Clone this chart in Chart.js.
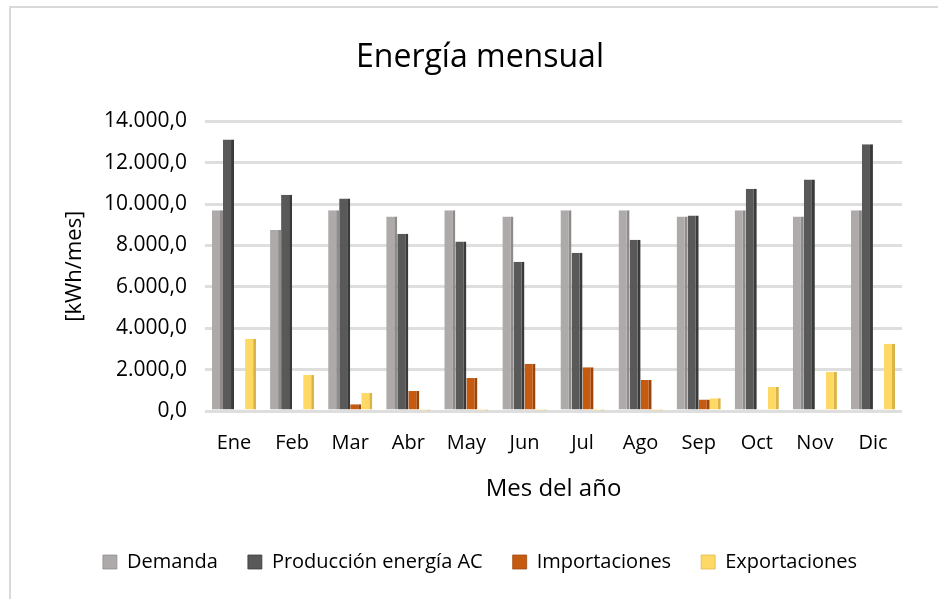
<!DOCTYPE html>
<html lang="es">
<head>
    <meta charset="UTF-8">
    <title>Energía mensual</title>
    <script src="https://cdn.jsdelivr.net/npm/chart.js"></script>
    <style>
        html, body { margin: 0; padding: 0; background: #fff; }
        #wrap { width: 938px; height: 599px; }
    </style>
</head>
<body>
    <div id="wrap"><canvas id="barChart" width="938" height="599"></canvas></div>

    <script>
        const meses = ['Ene', 'Feb', 'Mar', 'Abr', 'May', 'Jun', 'Jul', 'Ago', 'Sep', 'Oct', 'Nov', 'Dic'];
        const demanda = [9700, 8750, 9700, 9400, 9700, 9400, 9700, 9700, 9400, 9700, 9400, 9700];
        const produccion = [13130, 10460, 10270, 8570, 8190, 7220, 7650, 8280, 9450, 10750, 11190, 12890];
        const importaciones = [80, 60, 330, 970, 1600, 2290, 2120, 1500, 560, 80, 60, 80];
        const exportaciones = [3490, 1740, 870, 20, 20, 20, 20, 20, 620, 1160, 1890, 3250];
        const yTicks = [0, 2000, 4000, 6000, 8000, 10000, 12000, 14000];

        const font = "'Open Sans', sans-serif";

        function fmt(v) {
            const s = Math.round(v).toString().replace(/\B(?=(\d{3})+(?!\d))/g, '.');
            return s + ',0';
        }

        // thin gray frame on the left and top, like the Excel chart area border
        const frame = {
            id: 'frame',
            beforeDraw(chart) {
                const c = chart.ctx;
                c.save();
                c.strokeStyle = '#d9d9d9';
                c.lineWidth = 2;
                c.beginPath();
                c.moveTo(10, 599);
                c.lineTo(10, 7);
                c.lineTo(938, 7);
                c.stroke();
                c.restore();
            }
        };

        function serie(label, data, color, side) {
            return {
                label: label,
                data: data,
                backgroundColor: color,
                borderColor: side,
                borderWidth: { top: 0, left: 0, right: 3, bottom: 0 },
                borderSkipped: false
            };
        }

        const ctx = document.getElementById('barChart').getContext('2d');
        new Chart(ctx, {
            type: 'bar',
            data: {
                labels: meses,
                datasets: [
                    serie('Demanda', demanda, '#aeaaaa', '#8f8b8b'),
                    serie('Producción energía AC', produccion, '#595959', '#3a3a3a'),
                    serie('Importaciones', importaciones, '#c55a11', '#9c450b'),
                    serie('Exportaciones', exportaciones, '#ffd966', '#d9b448')
                ]
            },
            options: {
                responsive: false,
                animation: false,
                layout: { padding: { left: 58, right: 36, top: 33, bottom: 17 } },
                datasets: { bar: { categoryPercentage: 0.76, barPercentage: 1 } },
                plugins: {
                    title: {
                        display: true,
                        text: 'Energía mensual',
                        color: '#000',
                        font: { family: font, size: 32, weight: 'normal' },
                        padding: { top: 6, bottom: 44 }
                    },
                    legend: {
                        position: 'bottom',
                        labels: {
                            color: '#000',
                            font: { family: font, size: 20 },
                            boxWidth: 14,
                            boxHeight: 14,
                            padding: 30
                        }
                    },
                    tooltip: { enabled: false }
                },
                scales: {
                    x: {
                        grid: { display: false },
                        border: { display: false },
                        ticks: { color: '#000', font: { family: font, size: 20 }, padding: 12 },
                        title: {
                            display: true,
                            text: 'Mes del año',
                            color: '#000',
                            font: { family: font, size: 24 },
                            padding: { top: 8, bottom: 18 }
                        },
                        afterFit(scale) { scale.height = 111; }
                    },
                    y: {
                        min: 0,
                        max: 14000,
                        afterBuildTicks(scale) {
                            scale.ticks = yTicks.map(v => ({ value: v }));
                        },
                        grid: { color: '#dedede', lineWidth: 3, drawTicks: false },
                        border: { display: false },
                        ticks: {
                            color: '#000',
                            font: { family: font, size: 21 },
                            padding: 18,
                            callback: v => fmt(v)
                        },
                        title: {
                            display: true,
                            text: '[kWh/mes]',
                            color: '#000',
                            font: { family: font, size: 22 },
                            padding: { bottom: 4 }
                        },
                        afterFit(scale) { scale.width = 147; }
                    }
                }
            },
            plugins: [frame]
        });
    </script>
</body>
</html>
